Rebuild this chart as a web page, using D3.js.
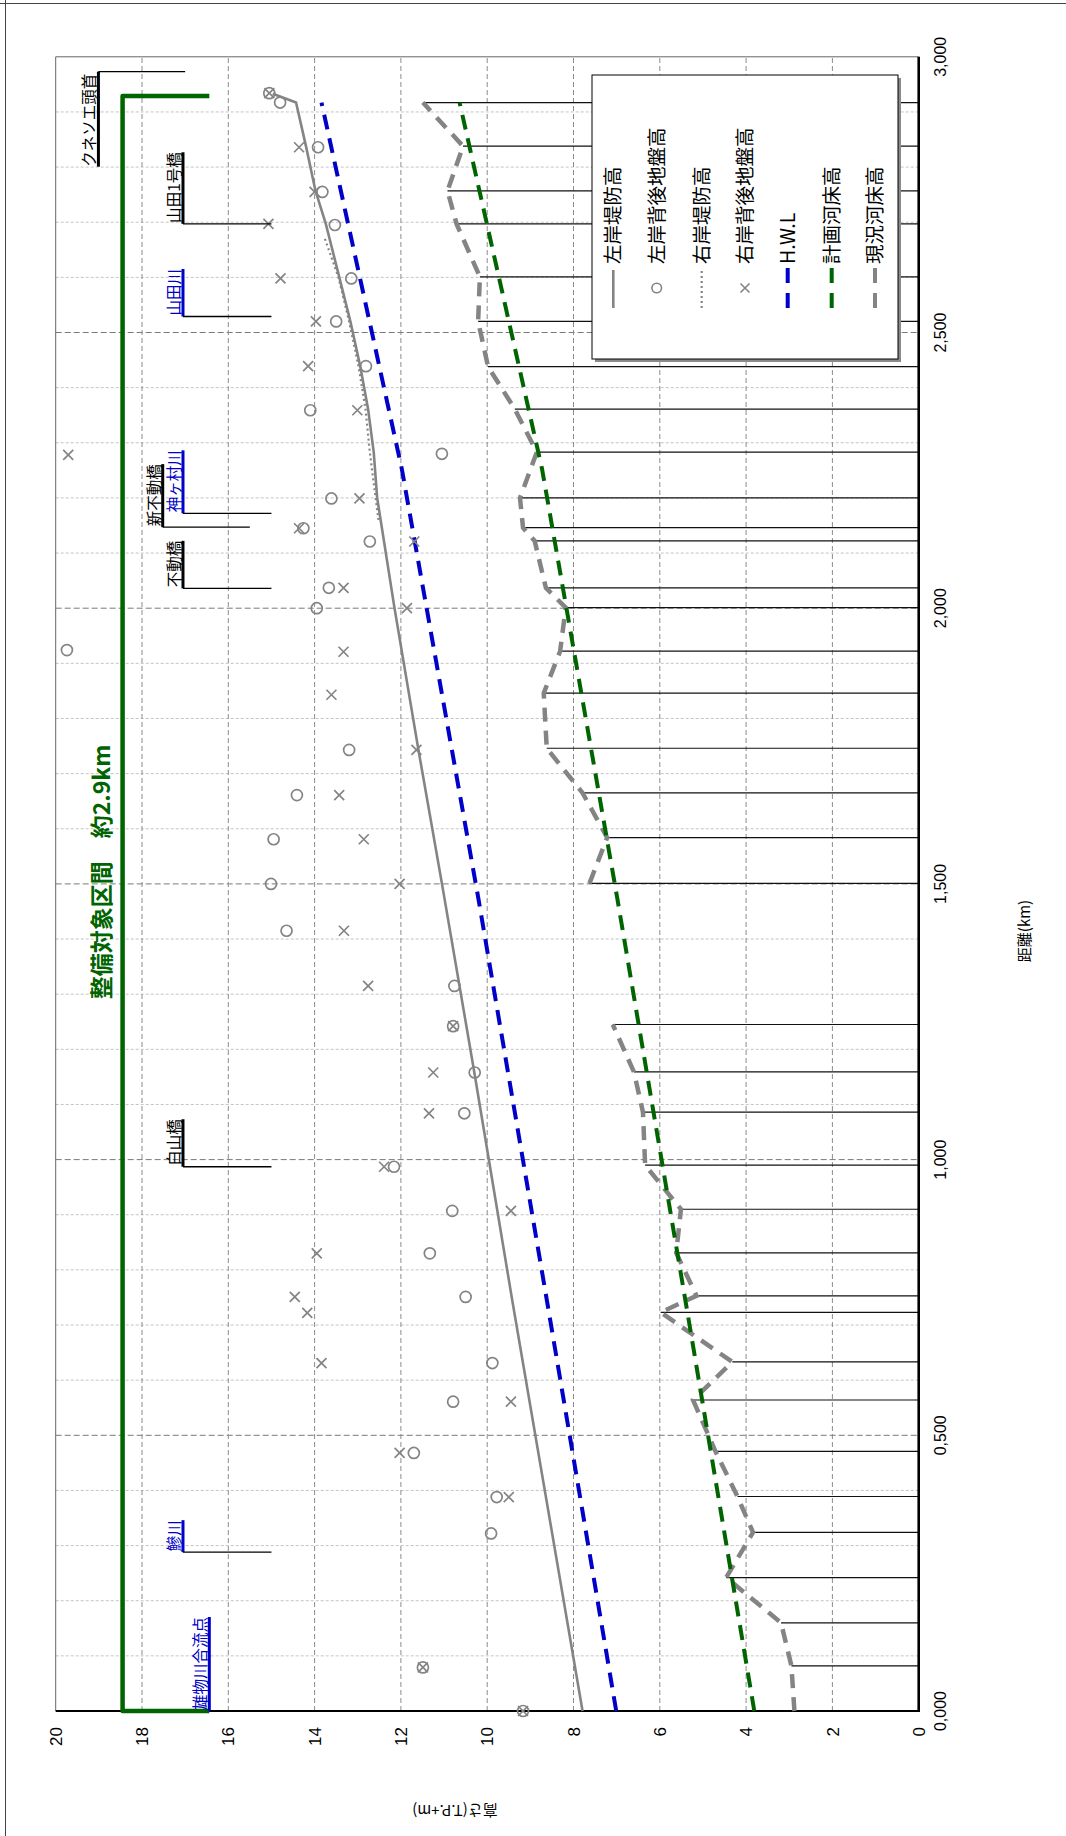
<!DOCTYPE html>
<html>
<head>
<meta charset="utf-8">
<script src="https://cdn.jsdelivr.net/npm/d3@7"></script>
<style>
  html, body { margin: 0; padding: 0; background: #fff; }
  svg { display: block; }
</style>
</head>
<body>
<svg id="chart" width="1066" height="1836"></svg>
<script>
// ---- axis ticks ----
const distTicks = [0, 0.5, 1.0, 1.5, 2.0, 2.5, 3.0];
const distMinorTicks = d3.range(0, 31).map(i => i / 10);
const elevTicks = [0, 2, 4, 6, 8, 10, 12, 14, 16, 18, 20];

// ---- survey stations and current river bed (null = no survey) ----
const stationKm = [0.000, 0.082, 0.160, 0.242, 0.324, 0.389, 0.471, 0.564, 0.633, 0.723,
                   0.753, 0.831, 0.910, 0.990, 1.086, 1.159, 1.245, 1.370, 1.501, 1.584,
                   1.665, 1.746, 1.846, 1.922, 2.001, 2.037, 2.122, 2.146, 2.200, 2.283,
                   2.361, 2.438, 2.520, 2.601, 2.697, 2.757, 2.838, 2.917];
const currentBedM = [2.88, 2.95, 3.19, 4.46, 3.84, 4.20, 4.71, 5.23, 4.32, 5.98,
                     5.15, 5.62, 5.51, 6.34, 6.39, 6.60, 7.09, null, 7.63, 7.22,
                     7.79, 8.62, 8.69, 8.31, 8.18, 8.64, 8.90, 9.17, 9.24, 8.85,
                     9.36, 9.98, 10.21, 10.17, 10.71, 10.92, 10.56, 11.49];

// ---- left bank levee crown ----
const leftLeveeKm = [0.000, 0.745, 1.159, 1.501, 1.746, 2.001, 2.200, 2.283, 2.361, 2.438,
                     2.520, 2.601, 2.697, 2.757, 2.838, 2.917, 2.933];
const leftLeveeM  = [7.79, 9.42, 10.30, 11.05, 11.60, 12.15, 12.55, 12.63, 12.76, 12.94,
                     13.17, 13.43, 13.74, 13.98, 14.20, 14.43, 14.97];

// ---- right bank levee crown ----
const rightLeveeKm = [2.160, 2.251, 2.283, 2.361, 2.438, 2.520, 2.601, 2.674];
const rightLeveeM  = [12.52, 12.67, 12.72, 12.82, 12.98, 13.20, 13.45, 13.78];

// ---- high water level / planned bed ----
const hwlKm = [0.000, 0.723, 1.476, 2.253, 2.917];
const hwlM  = [7.01, 8.57, 10.21, 11.98, 13.84];
const planBedKm = [0.000, 0.723, 1.476, 2.253, 2.917];
const planBedM  = [3.81, 5.36, 6.99, 8.73, 10.64];

// ---- ground behind the left bank ----
const leftGroundKm = [0.000, 0.079, 0.322, 0.388, 0.468, 0.561, 0.631, 0.751, 0.830, 0.907,
                      0.987, 1.084, 1.158, 1.242, 1.315, 1.415, 1.500, 1.581, 1.661, 1.743,
                      1.924, 2.000, 2.037, 2.121, 2.145, 2.199, 2.280, 2.359, 2.439, 2.520,
                      2.598, 2.695, 2.755, 2.836, 2.917, 2.934];
const leftGroundM  = [9.17, 11.49, 9.91, 9.78, 11.70, 10.79, 9.88, 10.50, 11.33, 10.81,
                      12.16, 10.53, 10.29, 10.79, 10.76, 14.65, 15.01, 14.95, 14.41, 13.20,
                      19.74, 13.95, 13.67, 12.72, 14.26, 13.61, 11.05, 14.10, 12.81, 13.50,
                      13.15, 13.53, 13.82, 13.92, 14.80, 15.05];

// ---- ground behind the right bank ----
const rightGroundKm = [0.000, 0.079, 0.388, 0.468, 0.561, 0.631, 0.722, 0.751, 0.830, 0.907,
                       0.987, 1.084, 1.158, 1.242, 1.315, 1.415, 1.500, 1.581, 1.661, 1.743,
                       1.843, 1.921, 2.000, 2.037, 2.121, 2.145, 2.199, 2.278, 2.359, 2.439,
                       2.520, 2.598, 2.697, 2.755, 2.836, 2.934];
const rightGroundM  = [9.17, 11.49, 9.50, 12.03, 9.45, 13.84, 14.17, 14.46, 13.95, 9.45,
                       12.39, 11.35, 11.25, 10.79, 12.76, 13.32, 12.03, 12.86, 13.43, 11.64,
                       13.61, 13.33, 11.86, 13.33, 11.69, 14.36, 12.96, 19.71, 13.01, 14.15,
                       13.97, 14.79, 15.07, 14.00, 14.36, 15.05];

// ---- landmarks along the river ----
const markNames  = ['雄物川合流点', '鰺川', '白山橋', '不動橋', '新不動橋', '神ヶ村川', '山田川', '山田1号橋', 'クネソエ頭首'];
const markKm     = [0.000, 0.288, 0.987, 2.036, 2.147, 2.172, 2.529, 2.697, 2.973];
const markTopM   = [16.44, 17.05, 17.05, 17.05, 17.52, 17.05, 17.05, 17.05, 19.01];
const markFootM  = [16.44, 15.00, 15.00, 15.00, 15.50, 15.00, 15.00, 15.00, 17.00];
const markIsRiver = [true, true, false, false, false, true, true, false, false];

// ---- improvement section ----
const sectionKm = [0.000, 2.929];
const sectionLabel = '整備対象区間　約2.9km';

// ---- legend ----
const legendNames = ['左岸堤防高', '左岸背後地盤高', '右岸堤防高', '右岸背後地盤高', 'H.W.L', '計画河床高', '現況河床高'];

// ===================== drawing =====================
const JP = '"Noto Sans CJK JP", "Noto Sans", sans-serif';
const LAT = '"Liberation Sans", Arial, sans-serif';
const GRAY = '#848484', BLUE = '#0000c8', GREEN = '#006400';

const svg = d3.select('#chart');
// the chart is laid out landscape and turned a quarter turn onto the page
const g = svg.append('g').attr('transform', 'translate(0,1836) rotate(-90)');

const x = d3.scaleLinear().domain([0, 3]).range([125, 1779.2]);
const y = d3.scaleLinear().domain([0, 20]).range([918.7, 55.7]);

// page frame
g.append('line').attr('x1', 0).attr('x2', 1836).attr('y1', 5.5).attr('y2', 5.5)
  .attr('stroke', '#444').attr('stroke-width', 1);
g.append('line').attr('x1', 1832.5).attr('x2', 1832.5).attr('y1', 0).attr('y2', 1066)
  .attr('stroke', '#444').attr('stroke-width', 1);

// grid
const grid = g.append('g');
grid.selectAll('.vmin').data(distMinorTicks.filter(d => d > 0 && d < 3 && Math.round(d * 10) % 5 !== 0))
  .join('line')
  .attr('x1', d => x(d)).attr('x2', d => x(d)).attr('y1', y(20)).attr('y2', y(0))
  .attr('stroke', '#c4c4c4').attr('stroke-width', 1).attr('stroke-dasharray', '3,2');
grid.selectAll('.vmaj').data(distTicks.filter(d => d > 0 && d < 3))
  .join('line')
  .attr('x1', d => x(d)).attr('x2', d => x(d)).attr('y1', y(20)).attr('y2', y(0))
  .attr('stroke', '#7a7a7a').attr('stroke-width', 1).attr('stroke-dasharray', '6,3');
grid.selectAll('.h').data(elevTicks.filter(v => v > 0 && v < 20))
  .join('line')
  .attr('x1', x(0)).attr('x2', x(3)).attr('y1', v => y(v)).attr('y2', v => y(v))
  .attr('stroke', '#8c8c8c').attr('stroke-width', 1).attr('stroke-dasharray', '5,3');

// plot frame
g.append('line').attr('x1', x(0)).attr('x2', x(3)).attr('y1', y(20)).attr('y2', y(20))
  .attr('stroke', '#666').attr('stroke-width', 1);
g.append('line').attr('x1', x(3)).attr('x2', x(3)).attr('y1', y(20)).attr('y2', y(0))
  .attr('stroke', '#666').attr('stroke-width', 1);

// station cross-section lines
const stations = stationKm.map((d, i) => ({ d, v: currentBedM[i] })).filter(p => p.v !== null);
g.append('g').selectAll('line').data(stations).join('line')
  .attr('x1', p => x(p.d)).attr('x2', p => x(p.d))
  .attr('y1', p => y(p.v)).attr('y2', y(0))
  .attr('stroke', '#111').attr('stroke-width', 1.2);

// axes lines
g.append('line').attr('x1', x(0)).attr('x2', x(0)).attr('y1', y(20)).attr('y2', y(0))
  .attr('stroke', '#000').attr('stroke-width', 2.2);
g.append('line').attr('x1', x(0) - 1).attr('x2', x(3)).attr('y1', y(0)).attr('y2', y(0))
  .attr('stroke', '#000').attr('stroke-width', 2.6);

// tick labels
g.append('g').selectAll('text').data(elevTicks).join('text')
  .attr('x', 109).attr('y', v => y(v)).attr('dy', '0.36em')
  .attr('text-anchor', 'end').attr('font-family', LAT).attr('font-size', 17)
  .text(v => v);
g.append('g').selectAll('text').data(distTicks).join('text')
  .attr('x', d => x(d)).attr('y', 946)
  .attr('text-anchor', 'middle').attr('font-family', LAT).attr('font-size', 16)
  .text(d => d.toFixed(3).replace('.', ','));

// axis titles
g.append('text').attr('x', 905).attr('y', 1030).attr('text-anchor', 'middle')
  .attr('font-family', JP).attr('font-size', 15).text('距離(km)');
g.append('text').attr('transform', 'translate(31,455) rotate(-90)').attr('text-anchor', 'middle')
  .attr('font-family', JP).attr('font-size', 15).text('高さ(T.P.+m)');

// series
const pts = (ks, vs) => ks.map((d, i) => [d, vs[i]]);
const line = d3.line().defined(p => p[1] !== null).x(p => x(p[0])).y(p => y(p[1]));

g.append('path').datum(pts(stationKm, currentBedM)).attr('d', line)
  .attr('fill', 'none').attr('stroke', GRAY).attr('stroke-width', 4.5).attr('stroke-dasharray', '14,9');
g.append('path').datum(pts(planBedKm, planBedM)).attr('d', line)
  .attr('fill', 'none').attr('stroke', GREEN).attr('stroke-width', 4).attr('stroke-dasharray', '15,9');
g.append('path').datum(pts(hwlKm, hwlM)).attr('d', line)
  .attr('fill', 'none').attr('stroke', BLUE).attr('stroke-width', 4).attr('stroke-dasharray', '15,9');
g.append('path').datum(pts(rightLeveeKm, rightLeveeM)).attr('d', line)
  .attr('fill', 'none').attr('stroke', GRAY).attr('stroke-width', 2.2).attr('stroke-dasharray', '2,3');
g.append('path').datum(pts(leftLeveeKm, leftLeveeM)).attr('d', line)
  .attr('fill', 'none').attr('stroke', GRAY).attr('stroke-width', 2.6);

// ground markers
g.append('g').selectAll('circle').data(pts(leftGroundKm, leftGroundM)).join('circle')
  .attr('cx', p => x(p[0])).attr('cy', p => y(p[1])).attr('r', 5.5)
  .attr('fill', 'none').attr('stroke', GRAY).attr('stroke-width', 1.7);
const cross = s => `M${-s},${-s}L${s},${s}M${-s},${s}L${s},${-s}`;
g.append('g').selectAll('path').data(pts(rightGroundKm, rightGroundM)).join('path')
  .attr('transform', p => `translate(${x(p[0])},${y(p[1])})`).attr('d', cross(5))
  .attr('fill', 'none').attr('stroke', GRAY).attr('stroke-width', 1.7);

// improvement section bracket
const yTopB = y(18.45), yFootB = y(16.44);
g.append('path')
  .attr('d', `M${x(sectionKm[0])},${yFootB}V${yTopB}H${x(sectionKm[1])}V${yFootB}`)
  .attr('fill', 'none').attr('stroke', GREEN).attr('stroke-width', 4.5).attr('stroke-linejoin', 'round');
g.append('text').attr('x', 964).attr('y', 110).attr('text-anchor', 'middle')
  .attr('font-family', JP).attr('font-weight', 'bold').attr('font-size', 23).attr('fill', GREEN)
  .text(sectionLabel);

// landmark labels with leader lines
markNames.forEach((name, i) => {
  const col = markIsRiver[i] ? BLUE : '#000';
  const lx = x(markKm[i]);
  const yTop = y(markTopM[i]);
  const t = g.append('text').attr('y', yTop - 3).attr('font-family', JP).attr('font-size', 15.5)
    .attr('fill', col).text(name);
  const len = t.node().getComputedTextLength();
  const toLeft = lx + len > x(3);
  const x0 = toLeft ? lx - len - 2 : lx + 1;
  t.attr('x', x0);
  g.append('line').attr('x1', x0 - (toLeft ? 0 : 1)).attr('x2', x0 + len + (toLeft ? 2 : 0))
    .attr('y1', yTop).attr('y2', yTop).attr('stroke', col).attr('stroke-width', 3);
  if (markFootM[i] !== markTopM[i]) {
    g.append('line').attr('x1', lx).attr('x2', lx).attr('y1', yTop).attr('y2', y(markFootM[i]))
      .attr('stroke', '#000').attr('stroke-width', 1.3);
  }
});

// legend
const L = { x0: 1477, x1: 1761, y0: 592, y1: 898 };
const rowY = [613.3, 656.7, 701.7, 745, 787.7, 831.7, 875];
g.append('rect').attr('x', L.x0 - 3).attr('y', L.y0 + 3).attr('width', L.x1 - L.x0).attr('height', L.y1 - L.y0)
  .attr('fill', '#8a8a8a');
g.append('rect').attr('x', L.x0).attr('y', L.y0).attr('width', L.x1 - L.x0).attr('height', L.y1 - L.y0)
  .attr('fill', '#fff').attr('stroke', '#000').attr('stroke-width', 1);
const lg = g.append('g');
const sx0 = 1528, sx1 = 1566, sxm = 1548;
// samples
lg.append('line').attr('x1', sx0).attr('x2', sx1).attr('y1', rowY[0]).attr('y2', rowY[0])
  .attr('stroke', GRAY).attr('stroke-width', 2.6);
lg.append('circle').attr('cx', sxm).attr('cy', rowY[1]).attr('r', 4.8)
  .attr('fill', 'none').attr('stroke', GRAY).attr('stroke-width', 1.6);
lg.append('line').attr('x1', sx0).attr('x2', sx1).attr('y1', rowY[2]).attr('y2', rowY[2])
  .attr('stroke', GRAY).attr('stroke-width', 2.2).attr('stroke-dasharray', '2,3');
lg.append('path').attr('transform', `translate(${sxm},${rowY[3]})`).attr('d', cross(4.5))
  .attr('fill', 'none').attr('stroke', GRAY).attr('stroke-width', 1.6);
[[BLUE, 4], [GREEN, 5], [GRAY, 6]].forEach(([c, r]) => {
  lg.append('line').attr('x1', sx0).attr('x2', sx1 + 2).attr('y1', rowY[r]).attr('y2', rowY[r])
    .attr('stroke', c).attr('stroke-width', 4).attr('stroke-dasharray', '15,10');
});
lg.selectAll('text').data(legendNames).join('text')
  .attr('x', 1572).attr('y', (d, i) => rowY[i]).attr('dy', '0.36em')
  .attr('font-family', JP).attr('font-size', 19.5).text(d => d);
</script>
</body>
</html>
